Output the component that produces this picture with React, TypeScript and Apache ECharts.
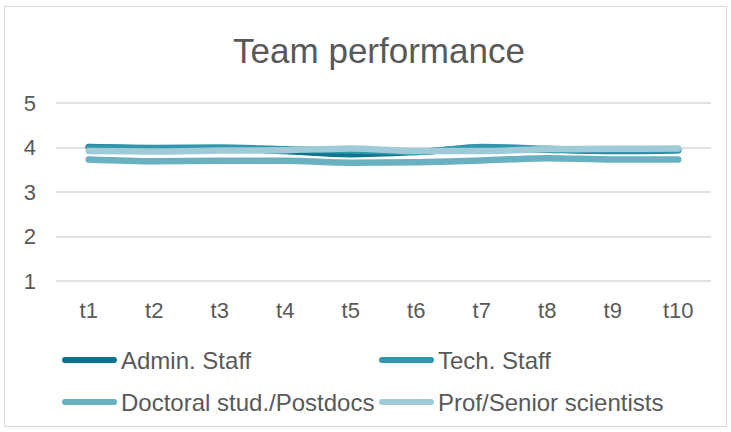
import React, { useEffect, useRef } from "react";
import * as echarts from "echarts";

const categories = ["t1", "t2", "t3", "t4", "t5", "t6", "t7", "t8", "t9", "t10"];
const seriesNames = ["Admin. Staff", "Tech. Staff", "Doctoral stud./Postdocs", "Prof/Senior scientists"];
const adminStaff = [4.01, 3.98, 3.98, 3.92, 3.85, 3.90, 3.99, 3.95, 3.92, 3.94];
const techStaff = [4.0, 3.99, 4.0, 3.96, 3.93, 3.9, 4.01, 3.97, 3.93, 3.95];
const doctoral = [3.73, 3.69, 3.7, 3.7, 3.66, 3.67, 3.71, 3.76, 3.73, 3.73];
const profSenior = [3.92, 3.91, 3.93, 3.94, 3.98, 3.92, 3.92, 3.96, 3.97, 3.98];
const colors = ["#0B7590", "#3195AB", "#69B0C1", "#9ECBD7"];
const yMin = 1;
const yMax = 5;
const yStep = 1;

export default function App() {
  const ref = useRef<HTMLDivElement>(null);
  useEffect(() => {
    if (!ref.current) return;
    const chart = echarts.init(ref.current, undefined, { renderer: "svg" });
    const values = [adminStaff, techStaff, doctoral, profSenior];
    const legendPos = [
      { left: 62, top: 348 },
      { left: 379, top: 348 },
      { left: 62, top: 390 },
      { left: 379, top: 390 },
    ];
    const font = "Liberation Sans, Arial, sans-serif";
    chart.setOption({
      animation: false,
      backgroundColor: "#ffffff",
      textStyle: { fontFamily: font },
      title: {
        text: "Team performance",
        left: 374,
        top: 28,
        textAlign: "center",
        textStyle: { fontSize: 35, fontWeight: "normal", color: "#595959", fontFamily: font },
      },
      graphic: [
        {
          type: "rect",
          shape: { x: 4.5, y: 6.5, width: 722, height: 420 },
          style: { fill: "none", stroke: "#d9d9d9", lineWidth: 1 },
          silent: true,
        },
      ],
      legend: seriesNames.map((n, i) => ({
        data: [n],
        left: legendPos[i].left,
        top: legendPos[i].top,
        icon: "path://M3,0 L52,0 A3,3 0 0 1 52,6 L3,6 A3,3 0 0 1 3,0 Z",
        itemWidth: 55,
        itemHeight: 6,
        padding: 0,
        textStyle: { fontSize: 24, color: "#595959", fontFamily: font, padding: [0, 0, 0, -1] },
      })),
      grid: { left: 56, right: 20, top: 103, bottom: 151 },
      xAxis: {
        type: "category",
        data: categories,
        boundaryGap: true,
        axisLine: { show: false },
        axisTick: { show: false },
        axisLabel: { fontSize: 22, color: "#595959", margin: 18, fontFamily: font },
      },
      yAxis: {
        type: "value",
        min: yMin,
        max: yMax,
        interval: yStep,
        axisLine: { show: false },
        axisTick: { show: false },
        axisLabel: { fontSize: 22, color: "#595959", margin: 20, fontFamily: font },
        splitLine: { lineStyle: { color: "#d9d9d9", width: 1.5 } },
      },
      series: seriesNames.map((n, i) => ({
        name: n,
        type: "line",
        data: values[i],
        smooth: 0.3,
        showSymbol: false,
        symbol: "none",
        color: colors[i],
        lineStyle: { width: 6.5, color: colors[i], cap: "round", join: "round" },
      })),
    });
    return () => chart.dispose();
  }, []);
  return (
    <div
      ref={ref}
      style={{ position: "fixed", left: 0, top: 0, width: 731, height: 432 }}
    />
  );
}
